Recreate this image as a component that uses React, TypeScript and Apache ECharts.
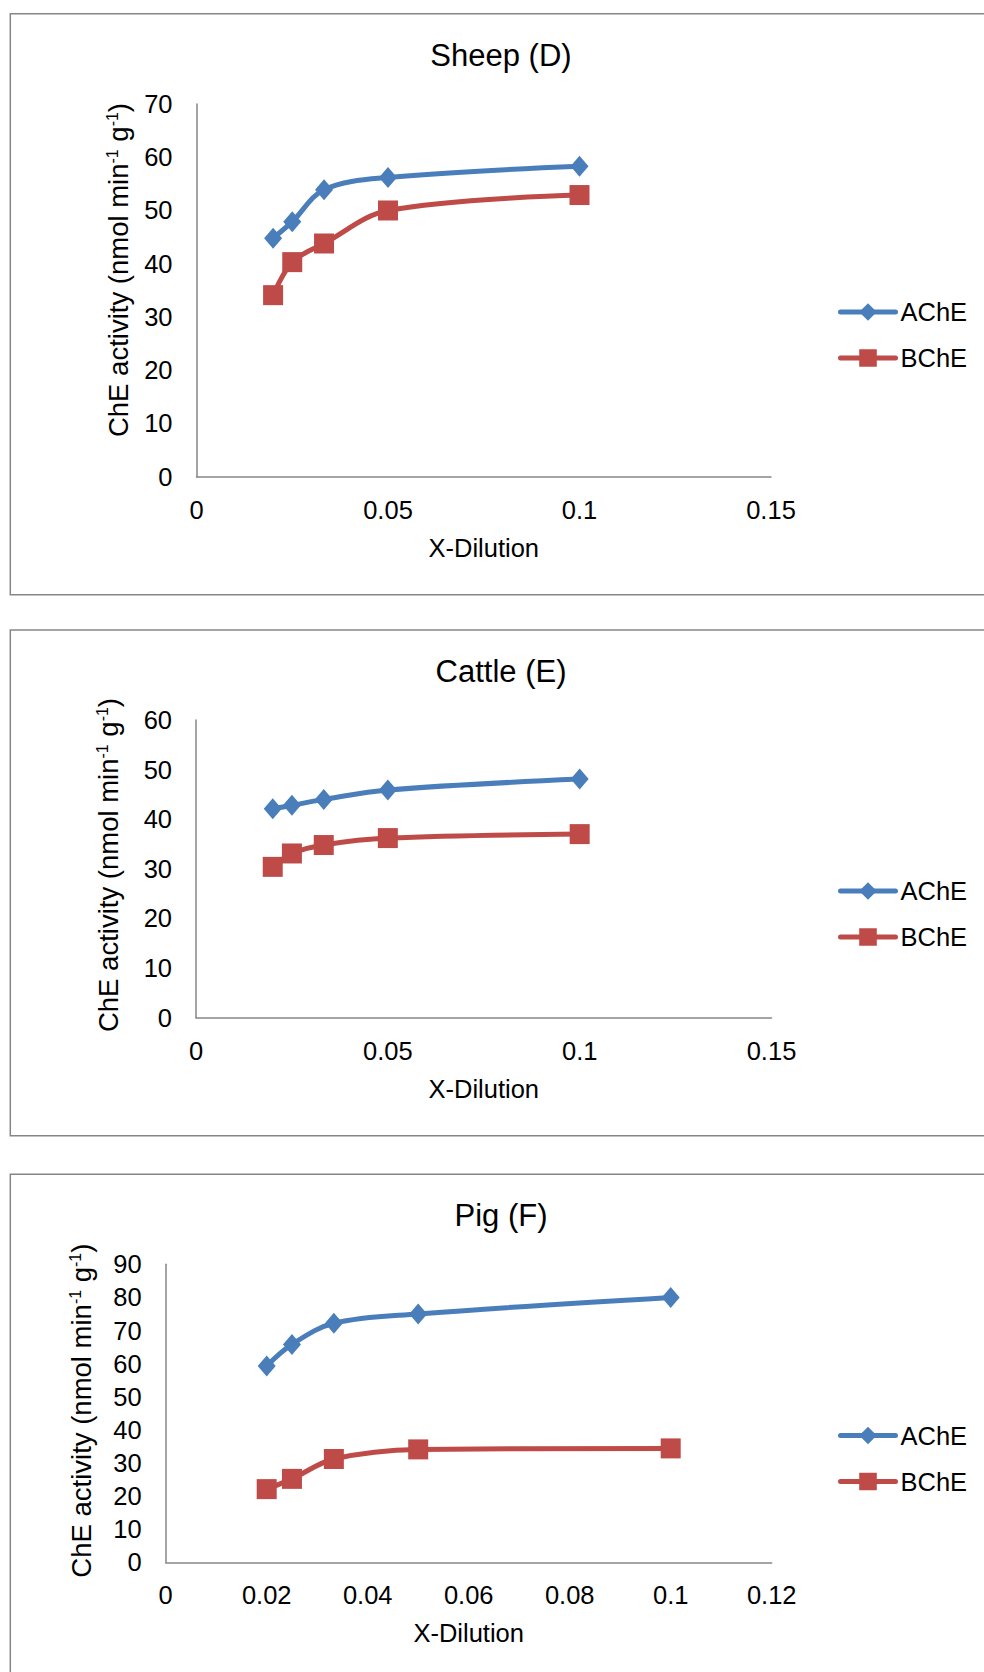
import React, { useEffect, useRef } from "react";
import * as echarts from "echarts";

// ---------- data ----------
const xDilution = [0.02, 0.025, 0.0333, 0.05, 0.1];

const sheepAChE = [44.8, 47.9, 53.9, 56.2, 58.3];
const sheepBChE = [34.1, 40.3, 43.8, 50.0, 52.9];

const cattleAChE = [42.1, 42.8, 44.0, 45.9, 48.1];
const cattleBChE = [30.4, 33.1, 34.8, 36.2, 37.0];

const pigAChE = [59.3, 65.8, 72.2, 75.0, 80.0];
const pigBChE = [22.1, 25.2, 31.2, 34.1, 34.4];

const sheepXTicks = [0, 0.05, 0.1, 0.15];
const cattleXTicks = [0, 0.05, 0.1, 0.15];
const pigXTicks = [0, 0.02, 0.04, 0.06, 0.08, 0.1, 0.12];

const sheepYTicks = [0, 10, 20, 30, 40, 50, 60, 70];
const cattleYTicks = [0, 10, 20, 30, 40, 50, 60];
const pigYTicks = [0, 10, 20, 30, 40, 50, 60, 70, 80, 90];

const titles = ["Sheep (D)", "Cattle (E)", "Pig (F)"];
const seriesNames = ["AChE", "BChE"];
const xAxisTitle = "X-Dilution";

// ---------- layout / style ----------
const FONT = "'Liberation Sans', Arial, Helvetica, sans-serif";
const BLUE = "#4A7EBB";
const RED = "#BE4B48";
const AXIS = "#868686";
const FS = 25.5;
const YT_FS = 27.5;

const layout = [
  { grid: { left: 196.5, top: 104, width: 574.5, height: 372.7 }, box: { y: 13.7, h: 581 }, titleTop: 39.5, yTitle: [118.5, 270], legendTop: 299 },
  { grid: { left: 196, top: 720, width: 575.5, height: 297.7 }, box: { y: 630, h: 505.7 }, titleTop: 655.5, yTitle: [108, 865], legendTop: 878 },
  { grid: { left: 165.7, top: 1264.3, width: 606, height: 298 }, box: { y: 1174.3, h: 600 }, titleTop: 1200, yTitle: [81.5, 1410.6], legendTop: 1422.5 },
];

const panelData = [
  { ach: sheepAChE, bch: sheepBChE, xt: sheepXTicks, yt: sheepYTicks },
  { ach: cattleAChE, bch: cattleBChE, xt: cattleXTicks, yt: cattleYTicks },
  { ach: pigAChE, bch: pigBChE, xt: pigXTicks, yt: pigYTicks },
];

function buildOption() {
  const grid: any[] = [];
  const xAxis: any[] = [];
  const yAxis: any[] = [];
  const series: any[] = [];
  const legend: any[] = [];
  const title: any[] = [];
  const graphic: any[] = [];

  panelData.forEach((p, i) => {
    const L = layout[i];
    grid.push({ ...L.grid, containLabel: false });
    xAxis.push({
      type: "value",
      gridIndex: i,
      min: p.xt[0],
      max: p.xt[p.xt.length - 1],
      interval: p.xt[1] - p.xt[0],
      axisLine: { show: true, onZero: false, lineStyle: { color: AXIS, width: 1.5 } },
      axisTick: { show: false },
      splitLine: { show: false },
      axisLabel: { color: "#000", fontSize: FS, fontFamily: FONT, margin: 20 },
      name: xAxisTitle,
      nameLocation: "middle",
      nameGap: 58,
      nameTextStyle: { color: "#000", fontSize: FS, fontFamily: FONT },
    });
    yAxis.push({
      type: "value",
      gridIndex: i,
      min: p.yt[0],
      max: p.yt[p.yt.length - 1],
      interval: p.yt[1] - p.yt[0],
      axisLine: { show: true, onZero: false, lineStyle: { color: AXIS, width: 1.5 } },
      axisTick: { show: false },
      splitLine: { show: false },
      axisLabel: { color: "#000", fontSize: FS, fontFamily: FONT, margin: 24 },
    });
    series.push({
      type: "line",
      name: seriesNames[0],
      xAxisIndex: i,
      yAxisIndex: i,
      data: xDilution.map((x, j) => [x, p.ach[j]]),
      smooth: 0.35,
      symbol: "diamond",
      symbolSize: [18, 21],
      lineStyle: { color: BLUE, width: 5, cap: "round", join: "round" },
      itemStyle: { color: BLUE },
      emphasis: { disabled: true },
    });
    series.push({
      type: "line",
      name: seriesNames[1],
      xAxisIndex: i,
      yAxisIndex: i,
      data: xDilution.map((x, j) => [x, p.bch[j]]),
      smooth: 0.35,
      symbol: "rect",
      symbolSize: 20,
      lineStyle: { color: RED, width: 5, cap: "round", join: "round" },
      itemStyle: { color: RED },
      emphasis: { disabled: true },
    });
    legend.push({
      data: seriesNames,
      orient: "vertical",
      left: 838,
      top: L.legendTop,
      itemWidth: 55,
      itemHeight: 22,
      itemGap: 20,
      padding: 0,
      lineStyle: { width: 5, cap: "round" },
      textStyle: { color: "#000", fontSize: FS, fontFamily: FONT },
    });
    title.push({
      text: titles[i],
      left: 501,
      top: L.titleTop,
      textAlign: "center",
      padding: 0,
      textStyle: { color: "#000", fontSize: 31, fontWeight: "normal", fontFamily: FONT },
    });
    graphic.push({
      type: "rect",
      silent: true,
      z: -10,
      shape: { x: 10.3, y: L.box.y, width: 1000, height: L.box.h },
      style: { fill: "none", stroke: AXIS, lineWidth: 1.5 },
    });
    graphic.push({
      type: "text",
      silent: true,
      x: L.yTitle[0],
      y: L.yTitle[1],
      rotation: Math.PI / 2,
      style: {
        text: "{a|ChE activity (nmol min}{s|-1}{a| g}{s|-1}{a|)}",
        align: "center",
        verticalAlign: "middle",
        fill: "#000",
        fontSize: YT_FS,
        fontFamily: FONT,
        rich: {
          a: { fontSize: YT_FS, fontFamily: FONT, fill: "#000" },
          s: { fontSize: 16, fontFamily: FONT, fill: "#000", verticalAlign: "top" },
        },
      },
    });
  });

  return {
    animation: false,
    backgroundColor: "#fff",
    grid,
    xAxis,
    yAxis,
    series,
    legend,
    title,
    graphic,
  };
}

export default function App() {
  const ref = useRef<HTMLDivElement>(null);
  useEffect(() => {
    if (!ref.current) return;
    const chart = echarts.init(ref.current, undefined, { renderer: "svg" });
    chart.setOption(buildOption() as any);
    return () => chart.dispose();
  }, []);
  return (
    <div
      ref={ref}
      style={{ position: "absolute", left: 0, top: 0, width: 984, height: 1672, background: "#fff" }}
    />
  );
}
